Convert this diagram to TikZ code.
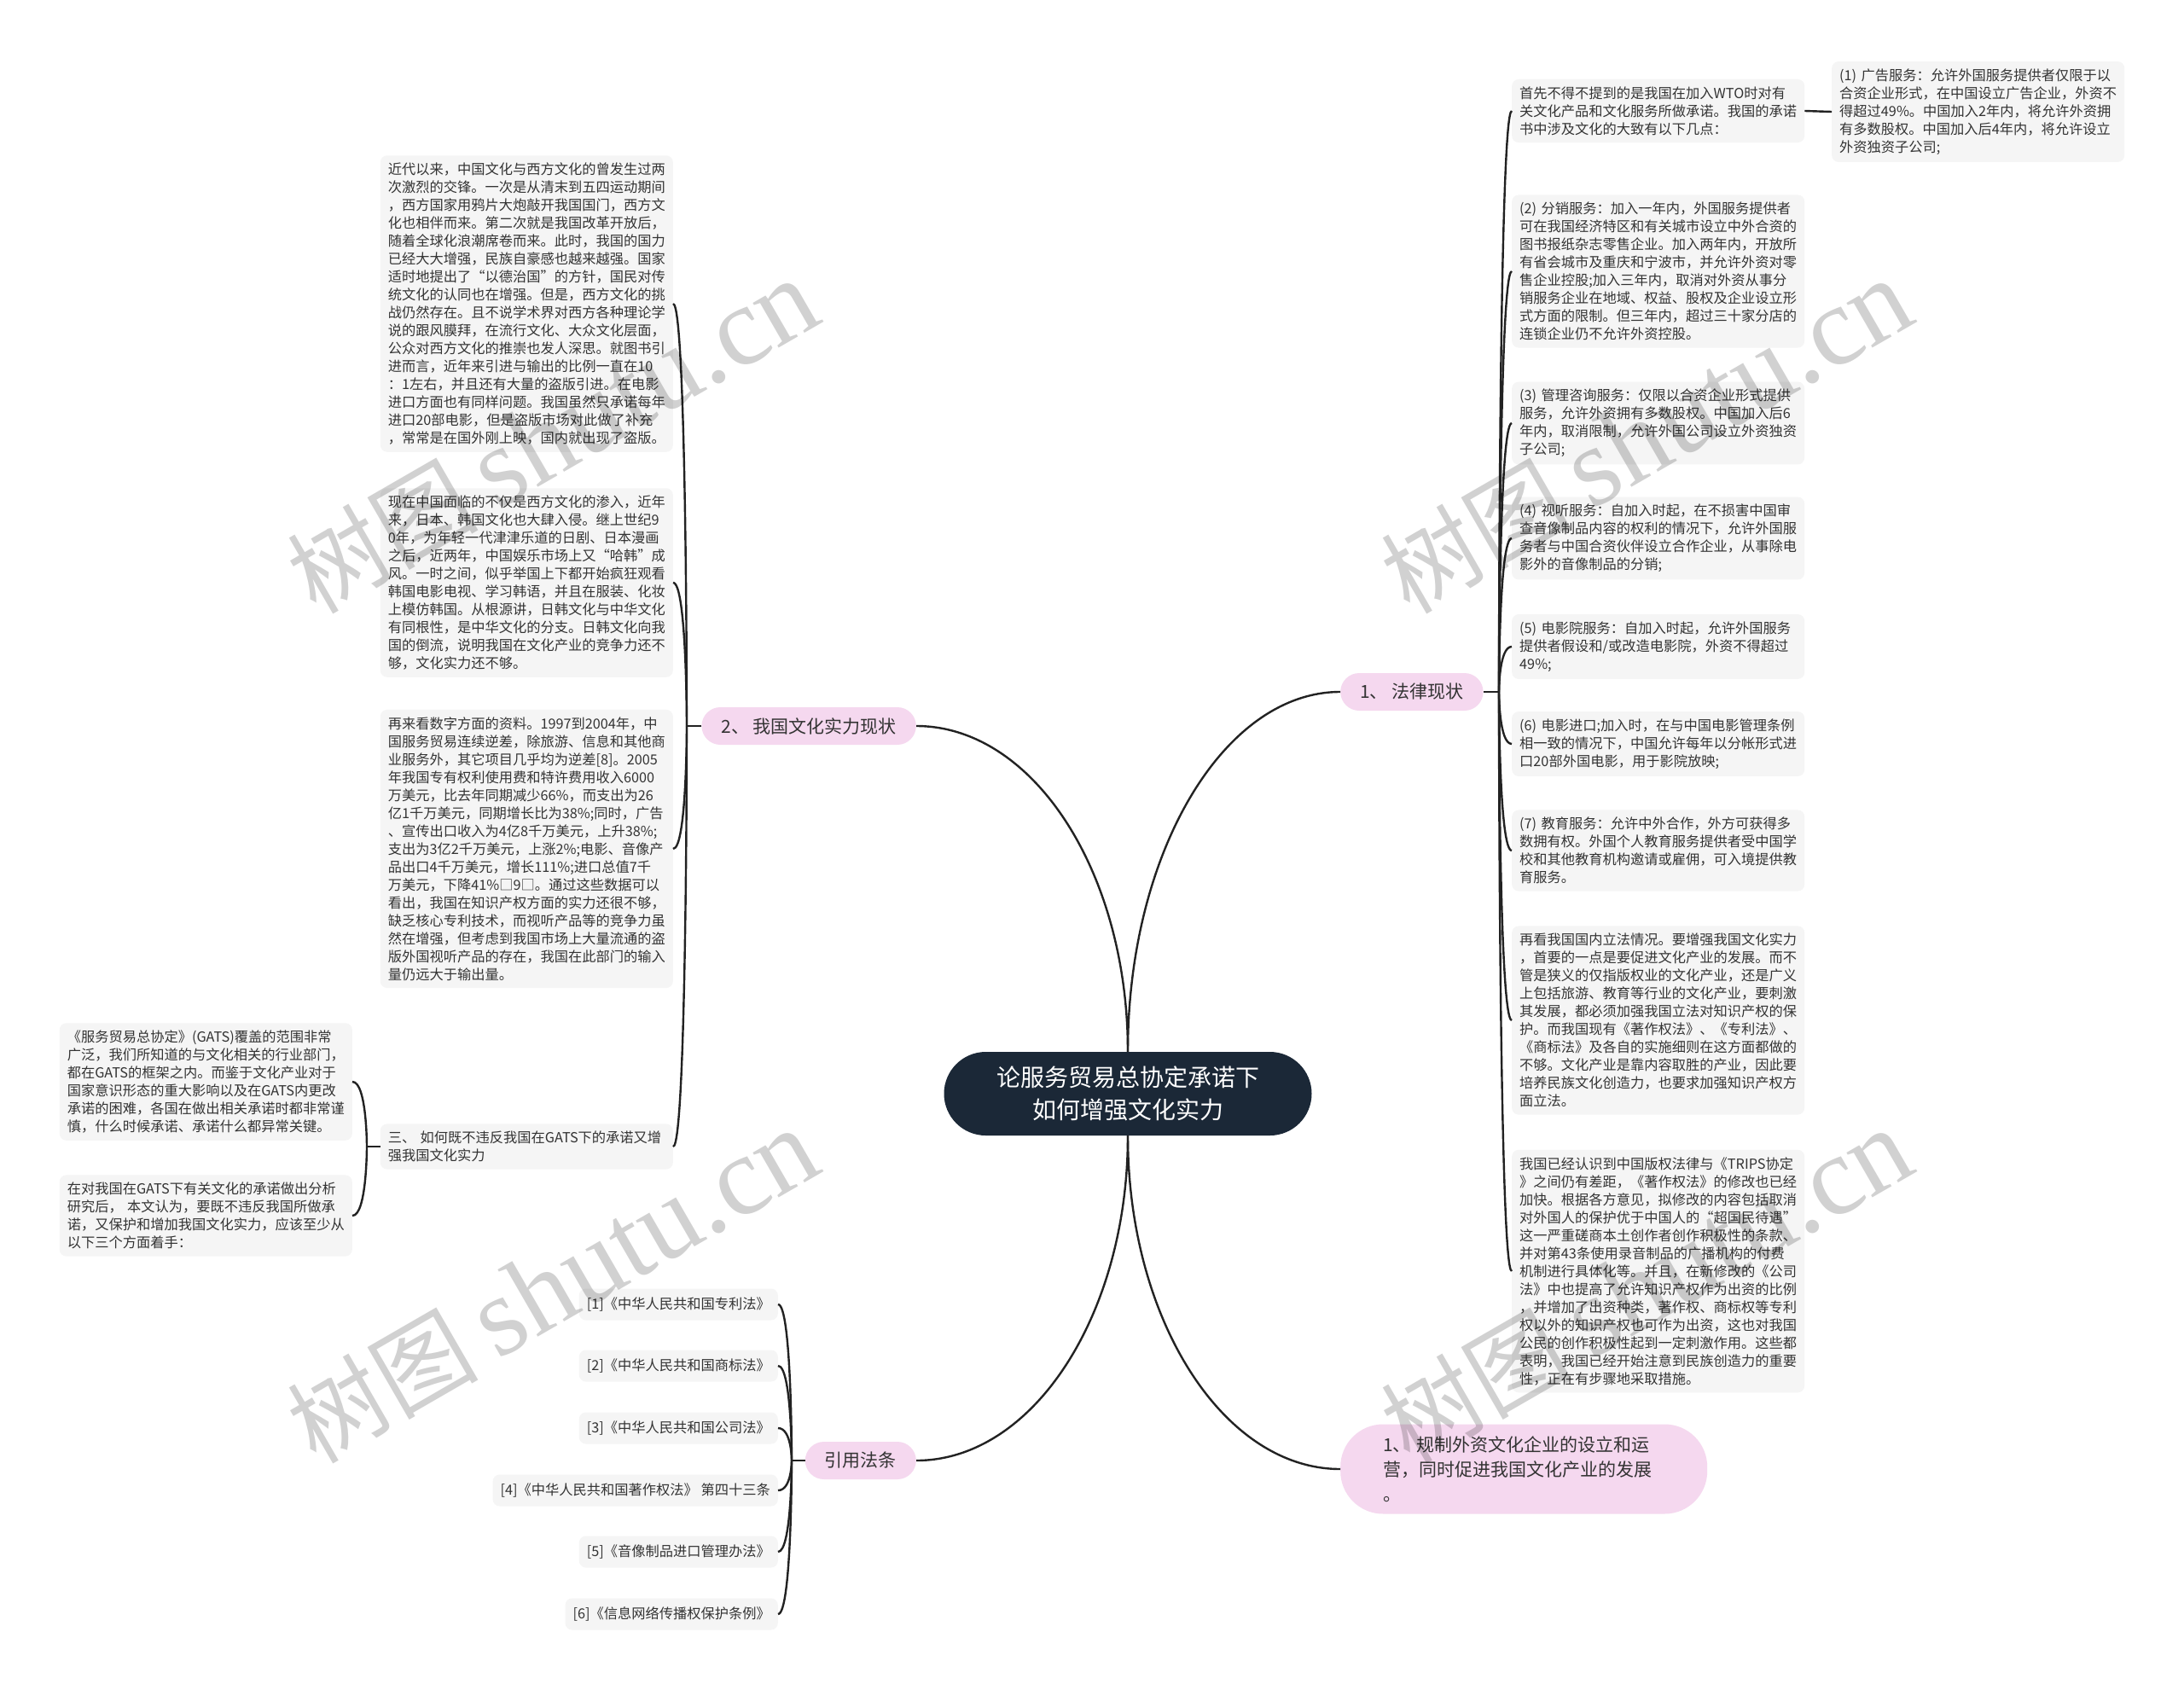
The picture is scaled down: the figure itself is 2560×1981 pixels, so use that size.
\documentclass[tikz,border=0pt]{standalone}
\usepackage{fontspec}
\setmainfont{Noto Sans CJK SC}
\newfontfamily\wmlatin{Liberation Serif}
\definecolor{boxfill}{HTML}{F5F5F5}
\definecolor{pinkfill}{HTML}{F5D8EF}
\definecolor{navy}{HTML}{1B2837}
\definecolor{txt}{HTML}{333333}
\definecolor{ln}{HTML}{222222}
\newcommand\mmSmall{\fontsize{16.25pt}{21pt}\selectfont}
\newcommand\mmMid{\fontsize{21pt}{28pt}\selectfont}
\newcommand\mmBig{\fontsize{28pt}{38pt}\selectfont}
\begin{document}
\begin{tikzpicture}[x=1pt,y=-1pt,
  tbox/.style={fill=boxfill, rounded corners=8pt, text width=325pt, align=left, inner xsep=9pt, inner ysep=8.5pt, text=txt, font=\mmSmall},
  rbox/.style={fill=boxfill, rounded corners=8pt, inner xsep=9pt, inner ysep=8pt, minimum height=37pt, text=txt, font=\mmSmall},
  pill/.style={fill=pinkfill, rounded corners=22pt, inner xsep=23pt, inner ysep=0pt, minimum height=44pt, text=txt, font=\mmMid},
  link/.style={draw=ln, line width=2.4pt},
  brk/.style={to path={.. controls (\tikztostart) and (\tikztostart |- \tikztotarget) .. (\tikztotarget)}},
  wm/.style={rotate=30, text=black, text opacity=0.18, inner sep=0pt}
]
\useasboundingbox (0,0) rectangle (2560,1981);
\fill[white] (0,0) rectangle (2560,1981);

% central node
\node[fill=navy, rounded corners=49pt, minimum width=431pt, minimum height=98pt, text=white, font=\mmBig, align=center, inner sep=0pt] (ctr) at (1322,1282) {论服务贸易总协定承诺下\\如何增强文化实力};

% main branches
\node[pill, anchor=west] (law) at (1571,811) {1、 法律现状};
\node[pill, anchor=east] (cur) at (1074,851) {2、 我国文化实力现状};
\node[pill, anchor=east] (ref) at (1074,1712) {引用法条};
\node[fill=pinkfill, rounded corners=50pt, text width=330pt, inner xsep=50pt, inner ysep=13pt, minimum height=105pt, align=left, font=\fontsize{21pt}{29pt}\selectfont, text=txt, anchor=west] (reg) at (1571,1722) {1、 规制外资文化企业的设立和运\\营，同时促进我国文化产业的发展\\。};

% right column
\node[tbox, anchor=west] (r0) at (1772,130) {首先不得不提到的是我国在加入WTO时对有\\关文化产品和文化服务所做承诺。我国的承诺\\书中涉及文化的大致有以下几点：};
\node[tbox, anchor=west] (r1) at (2147,131) {(1) 广告服务：允许外国服务提供者仅限于以\\合资企业形式，在中国设立广告企业，外资不\\得超过49\%。中国加入2年内，将允许外资拥\\有多数股权。中国加入后4年内，将允许设立\\外资独资子公司;};
\node[tbox, anchor=west] (r2) at (1772,318) {(2) 分销服务：加入一年内，外国服务提供者\\可在我国经济特区和有关城市设立中外合资的\\图书报纸杂志零售企业。加入两年内，开放所\\有省会城市及重庆和宁波市，并允许外资对零\\售企业控股;加入三年内，取消对外资从事分\\销服务企业在地域、权益、股权及企业设立形\\式方面的限制。但三年内，超过三十家分店的\\连锁企业仍不允许外资控股。};
\node[tbox, anchor=west] (r3) at (1772,496) {(3) 管理咨询服务：仅限以合资企业形式提供\\服务，允许外资拥有多数股权。中国加入后6\\年内，取消限制，允许外国公司设立外资独资\\子公司;};
\node[tbox, anchor=west] (r4) at (1772,631) {(4) 视听服务：自加入时起，在不损害中国审\\查音像制品内容的权利的情况下，允许外国服\\务者与中国合资伙伴设立合作企业，从事除电\\影外的音像制品的分销;};
\node[tbox, anchor=west] (r5) at (1772,758) {(5) 电影院服务：自加入时起，允许外国服务\\提供者假设和/或改造电影院，外资不得超过\\49\%;};
\node[tbox, anchor=west] (r6) at (1772,872) {(6) 电影进口;加入时，在与中国电影管理条例\\相一致的情况下，中国允许每年以分帐形式进\\口20部外国电影，用于影院放映;};
\node[tbox, anchor=west] (r7) at (1772,997) {(7) 教育服务：允许中外合作，外方可获得多\\数拥有权。外国个人教育服务提供者受中国学\\校和其他教育机构邀请或雇佣，可入境提供教\\育服务。};
\node[tbox, anchor=west] (r8) at (1772,1196) {再看我国国内立法情况。要增强我国文化实力\\，首要的一点是要促进文化产业的发展。而不\\管是狭义的仅指版权业的文化产业，还是广义\\上包括旅游、教育等行业的文化产业，要刺激\\其发展，都必须加强我国立法对知识产权的保\\护。而我国现有《著作权法》、《专利法》、\\《商标法》及各自的实施细则在这方面都做的\\不够。文化产业是靠内容取胜的产业，因此要\\培养民族文化创造力，也要求加强知识产权方\\面立法。};
\node[tbox, anchor=west] (r9) at (1772,1490) {我国已经认识到中国版权法律与《TRIPS协定\\》之间仍有差距，《著作权法》的修改也已经\\加快。根据各方意见，拟修改的内容包括取消\\对外国人的保护优于中国人的“超国民待遇”\\这一严重磋商本土创作者创作积极性的条款、\\并对第43条使用录音制品的广播机构的付费\\机制进行具体化等。并且，在新修改的《公司\\法》中也提高了允许知识产权作为出资的比例\\，并增加了出资种类，著作权、商标权等专利\\权以外的知识产权也可作为出资，这也对我国\\公民的创作积极性起到一定刺激作用。这些都\\表明，我国已经开始注意到民族创造力的重要\\性，正在有步骤地采取措施。};

% left column
\node[tbox, anchor=east] (l1) at (789,356) {近代以来，中国文化与西方文化的曾发生过两\\次激烈的交锋。一次是从清末到五四运动期间\\，西方国家用鸦片大炮敲开我国国门，西方文\\化也相伴而来。第二次就是我国改革开放后，\\随着全球化浪潮席卷而来。此时，我国的国力\\已经大大增强，民族自豪感也越来越强。国家\\适时地提出了“以德治国”的方针，国民对传\\统文化的认同也在增强。但是，西方文化的挑\\战仍然存在。且不说学术界对西方各种理论学\\说的跟风膜拜，在流行文化、大众文化层面，\\公众对西方文化的推崇也发人深思。就图书引\\进而言，近年来引进与输出的比例一直在10\\：1左右，并且还有大量的盗版引进。在电影\\进口方面也有同样问题。我国虽然只承诺每年\\进口20部电影，但是盗版市场对此做了补充\\，常常是在国外刚上映，国内就出现了盗版。};
\node[tbox, anchor=east] (l2) at (789,683) {现在中国面临的不仅是西方文化的渗入，近年\\来，日本、韩国文化也大肆入侵。继上世纪9\\0年，为年轻一代津津乐道的日剧、日本漫画\\之后，近两年，中国娱乐市场上又“哈韩”成\\风。一时之间，似乎举国上下都开始疯狂观看\\韩国电影电视、学习韩语，并且在服装、化妆\\上模仿韩国。从根源讲，日韩文化与中华文化\\有同根性，是中华文化的分支。日韩文化向我\\国的倒流，说明我国在文化产业的竞争力还不\\够，文化实力还不够。};
\node[tbox, anchor=east] (l3) at (789,995) {再来看数字方面的资料。1997到2004年，中\\国服务贸易连续逆差，除旅游、信息和其他商\\业服务外，其它项目几乎均为逆差[8]。2005\\年我国专有权利使用费和特许费用收入6000\\万美元，比去年同期减少66\%，而支出为26\\亿1千万美元，同期增长比为38\%;同时，广告\\、宣传出口收入为4亿8千万美元，上升38\%;\\支出为3亿2千万美元，上涨2\%;电影、音像产\\品出口4千万美元，增长111\%;进口总值7千\\万美元，下降41\%□9□。通过这些数据可以\\看出，我国在知识产权方面的实力还很不够，\\缺乏核心专利技术，而视听产品等的竞争力虽\\然在增强，但考虑到我国市场上大量流通的盗\\版外国视听产品的存在，我国在此部门的输入\\量仍远大于输出量。};
\node[tbox, anchor=east] (l4) at (789,1344) {三、 如何既不违反我国在GATS下的承诺又增\\强我国文化实力};

% GATS children
\node[tbox, anchor=east] (g1) at (413,1268) {《服务贸易总协定》(GATS)覆盖的范围非常\\广泛，我们所知道的与文化相关的行业部门，\\都在GATS的框架之内。而鉴于文化产业对于\\国家意识形态的重大影响以及在GATS内更改\\承诺的困难，各国在做出相关承诺时都非常谨\\慎，什么时候承诺、承诺什么都异常关键。};
\node[tbox, anchor=east] (g2) at (413,1425) {在对我国在GATS下有关文化的承诺做出分析\\研究后， 本文认为，要既不违反我国所做承\\诺，又保护和增加我国文化实力，应该至少从\\以下三个方面着手：};

% references
\node[rbox, anchor=east] (f1) at (912,1529) {[1]《中华人民共和国专利法》};
\node[rbox, anchor=east] (f2) at (912,1601) {[2]《中华人民共和国商标法》};
\node[rbox, anchor=east] (f3) at (912,1674) {[3]《中华人民共和国公司法》};
\node[rbox, anchor=east] (f4) at (912,1747) {[4]《中华人民共和国著作权法》 第四十三条};
\node[rbox, anchor=east] (f5) at (912,1819) {[5]《音像制品进口管理办法》};
\node[rbox, anchor=east] (f6) at (912,1892) {[6]《信息网络传播权保护条例》};

% main connectors
\draw[link] (ctr.north) .. controls (1322,1000) and (1434,811) .. (law.west);
\draw[link] (ctr.north) .. controls (1322,1022) and (1211,851) .. (cur.east);
\draw[link] (ctr.south) .. controls (1322,1541) and (1211,1712) .. (ref.east);
\draw[link] (ctr.south) .. controls (1322,1547) and (1434,1722) .. (reg.west);

% right bracket
\coordinate (JR) at (1757,811);
\draw[link] (law.east) -- (JR);
\foreach \c in {r0,r2,r3,r4,r5,r6,r7,r8,r9} \draw[link] (JR) to[brk] (\c.west);
\draw[link] (r0.east) -- (r1.west);

% left bracket
\coordinate (JL) at (805,851);
\draw[link] (cur.west) -- (JL);
\foreach \c in {l1,l2,l3,l4} \draw[link] (JL) to[brk] (\c.east);

% GATS bracket
\coordinate (JG) at (430,1344);
\draw[link] (l4.west) -- (JG);
\foreach \c in {g1,g2} \draw[link] (JG) to[brk] (\c.east);

% references bracket
\coordinate (JF) at (928,1712);
\draw[link] (ref.west) -- (JF);
\foreach \c in {f1,f2,f3,f4,f5,f6} \draw[link] (JF) to[brk] (\c.east);

% watermarks
\foreach \p/\n in {{(648,512)}/wa,{(1930,512)}/wb,{(648,1508)}/wc,{(1930,1508)}/wd}
  \node[wm] (\n) at \p {{\fontsize{112pt}{112pt}\selectfont 树图}\hspace{22pt}{\wmlatin\fontsize{132pt}{132pt}\selectfont shutu.cn}};
\end{tikzpicture}
\end{document}
